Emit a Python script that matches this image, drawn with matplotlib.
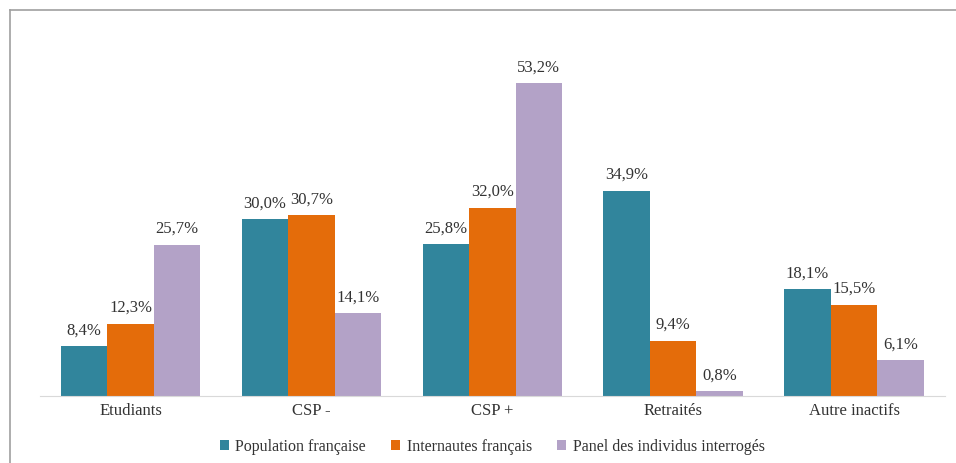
import matplotlib.pyplot as plt
import numpy as np

plt.rcParams['font.family'] = ['Liberation Serif', 'DejaVu Serif']

categories = ['Etudiants', 'CSP -', 'CSP +', 'Retraités', 'Autre inactifs']
series_names = ['Population française', 'Internautes français', 'Panel des individus interrogés']
population = [8.4, 30.0, 25.8, 34.9, 18.1]
internautes = [12.3, 30.7, 32.0, 9.4, 15.5]
panel = [25.7, 14.1, 53.2, 0.8, 6.1]
colors = ['#31859c', '#e46c0a', '#b3a2c7']
text_col = '#333333'

fig = plt.figure(figsize=(9.56, 4.63), dpi=100)
ax = fig.add_axes([0.042, 0.145, 0.946, 0.79])

x = np.arange(len(categories))
w = 0.257
for i, (vals, name, c) in enumerate(zip([population, internautes, panel], series_names, colors)):
    bars = ax.bar(x + (i - 1) * w, vals, w, color=c, label=name)
    for b, v in zip(bars, vals):
        ax.text(b.get_x() + b.get_width() / 2, v + 1.3, f"{v:.1f}%".replace('.', ','),
                ha='center', va='bottom', fontsize=12, color=text_col)

ax.set_xlim(-0.5, 4.5)
ax.set_ylim(0, 62.2)
ax.set_xticks(x)
ax.set_xticklabels(categories, fontsize=12, color=text_col)
ax.tick_params(axis='x', length=0, pad=5)
ax.set_yticks([])
for s in ['top', 'right', 'left']:
    ax.spines[s].set_visible(False)
ax.spines['bottom'].set_color('#d9d9d9')

leg = fig.legend(loc='center', bbox_to_anchor=(0.515, 0.035), ncol=3, frameon=False,
                 fontsize=11.5, handlelength=0.55, handleheight=0.55, handletextpad=0.4,
                 columnspacing=1.6)
for t in leg.get_texts():
    t.set_color(text_col)

# border lines at top and left
fig.add_artist(plt.Line2D([0.0105, 1], [0.978, 0.978], color='#a0a0a0', lw=1.2))
fig.add_artist(plt.Line2D([0.0105, 0.0105], [0, 0.978], color='#a0a0a0', lw=1.2))

fig.savefig('out.png', dpi=100)
